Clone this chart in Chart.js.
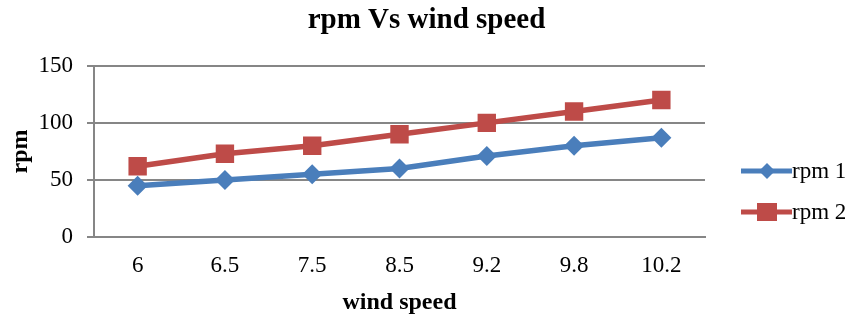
<!DOCTYPE html>
<html><head><meta charset="utf-8">
<script src="https://cdn.jsdelivr.net/npm/chart.js@4/dist/chart.umd.min.js"></script>
<style>html,body{margin:0;padding:0;background:#fff}#wrap{width:853px;height:317px}</style>
</head><body><div id="wrap"><canvas id="c" width="853" height="317"></canvas></div>
<script>
const categories = ['6','6.5','7.5','8.5','9.2','9.8','10.2'];
const rpm1 = [45, 50, 55, 60, 71, 80, 87];
const rpm2 = [62, 73, 80, 90, 100, 110, 120];
const seriesNames = ['rpm 1','rpm 2'];
const yTicks = [0, 50, 100, 150];

const SERIF = '"Liberation Serif", "Times New Roman", serif';
const legendPlugin = {
  id: 'sideLegend',
  afterDraw(chart) {
    const ctx = chart.ctx;
    const rows = [171, 212];
    chart.data.datasets.forEach((ds, i) => {
      const y = rows[i];
      const x0 = 741, x1 = 792, cx = 767;
      ctx.save();
      ctx.strokeStyle = ds.borderColor;
      ctx.lineWidth = 5;
      ctx.lineCap = 'butt';
      ctx.beginPath(); ctx.moveTo(x0, y); ctx.lineTo(x1, y); ctx.stroke();
      ctx.fillStyle = ds.backgroundColor;
      if (ds.pointStyle === 'rectRot') {
        const r = 8;
        ctx.beginPath(); ctx.moveTo(cx, y - r); ctx.lineTo(cx + r, y); ctx.lineTo(cx, y + r); ctx.lineTo(cx - r, y); ctx.closePath(); ctx.fill();
      } else {
        ctx.fillRect(cx - 10, y - 9, 20, 18);
      }
      ctx.fillStyle = '#000';
      ctx.font = '23px ' + SERIF;
      ctx.textBaseline = 'middle';
      ctx.fillText(ds.label, 792, y + 1);
      ctx.restore();
    });
  }
};

new Chart(document.getElementById('c'), {
  type: 'line',
  data: {
    labels: categories,
    datasets: [
      { label: seriesNames[0], data: rpm1, borderColor: '#4A7EBB', backgroundColor: '#4A7EBB', borderWidth: 5.5,
        pointStyle: 'rectRot', pointRadius: 10, pointHoverRadius: 10, pointBorderWidth: 0, tension: 0 },
      { label: seriesNames[1], data: rpm2, borderColor: '#BE4B48', backgroundColor: '#BE4B48', borderWidth: 5.5,
        pointStyle: 'rect', pointRadius: 13, pointHoverRadius: 13, pointBorderWidth: 0, tension: 0 }
    ]
  },
  options: {
    responsive: false,
    animation: false,
    devicePixelRatio: 1,
    layout: { padding: 0 },
    plugins: {
      legend: { display: false },
      tooltip: { enabled: false },
      title: { display: true, text: 'rpm Vs wind speed', color: '#000',
        font: { family: SERIF, size: 29, weight: 'bold' }, padding: { top: 3, bottom: 28 } }
    },
    scales: {
      x: {
        offset: true,
        grid: { display: false, drawTicks: false },
        border: { display: true, color: '#868686', width: 2 },
        ticks: { color: '#000', font: { family: SERIF, size: 23 }, padding: 15 },
        title: { display: true, text: 'wind speed', color: '#000', font: { family: SERIF, size: 24, weight: 'bold' }, padding: { top: 0, bottom: 0 } },
        afterFit(s) { s.height = 80; }
      },
      y: {
        min: 0, max: 150,
        afterBuildTicks(s) { s.ticks = yTicks.map(v => ({ value: v })); },
        grid: { color: '#868686', lineWidth: 2, tickLength: 7, drawTicks: true },
        border: { display: true, color: '#868686', width: 2 },
        ticks: { color: '#000', font: { family: SERIF, size: 23 }, padding: 14 },
        title: { display: true, text: 'rpm', color: '#000', font: { family: SERIF, size: 24, weight: 'bold' }, padding: { top: 6, bottom: 0 } },
        afterFit(s) { s.width = 94; }
      },
      legendSpace: {
        position: 'right',
        min: 0, max: 150,
        grid: { display: false, drawTicks: false },
        border: { display: false },
        ticks: { display: false },
        afterFit(s) { s.width = 148; }
      }
    }
  },
  plugins: [legendPlugin]
});
</script>
</body></html>
